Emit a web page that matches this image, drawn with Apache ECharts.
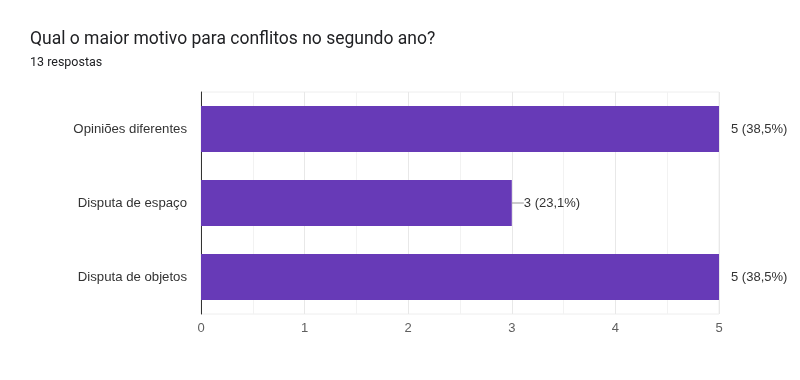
<!DOCTYPE html>
<html><head><meta charset="utf-8">
<script src="https://cdn.jsdelivr.net/npm/echarts@6/dist/echarts.min.js"></script>
<style>html,body{margin:0;padding:0;background:#fff}#c{width:800px;height:380px}</style>
</head><body><div id="c"></div>
<script>
const categories = ['Opiniões diferentes', 'Disputa de espaço', 'Disputa de objetos'];
const values = [5, 3, 5];
const percentLabels = ['38,5%', '23,1%', '38,5%'];
const titleText = 'Qual o maior motivo para conflitos no segundo ano?';
const subtitleText = '13 respostas';
const maxValue = 5;

const chart = echarts.init(document.getElementById('c'));
chart.setOption({
  animation: false,
  textStyle: { fontFamily: 'Roboto, Arial, sans-serif' },
  title: {
    text: titleText, subtext: subtitleText, left: 25, top: 26, itemGap: 7,
    textStyle: { fontFamily: 'Roboto', fontSize: 17.5, fontWeight: 'normal', color: '#202124' },
    subtextStyle: { fontFamily: 'Roboto', fontSize: 12.5, color: '#202124' }
  },
  grid: { left: 201, right: 81, top: 92, bottom: 66, show: true, borderColor: '#eeeeee', borderWidth: 1 },
  xAxis: {
    type: 'value', min: 0, max: maxValue, interval: 1,
    axisLine: { show: false }, axisTick: { show: false },
    axisLabel: { color: '#5f5f5f', fontSize: 13, margin: 8, fontFamily: 'Arial' },
    splitLine: { lineStyle: { color: '#e8e8e8' } },
    minorTick: { show: false, splitNumber: 2 },
    minorSplitLine: { show: true, lineStyle: { color: '#f2f2f2' } }
  },
  yAxis: {
    type: 'category', data: categories, inverse: true,
    axisLine: { lineStyle: { color: '#333', width: 1 } }, axisTick: { show: false },
    axisLabel: { color: '#333', fontSize: 13.2, margin: 14, fontFamily: 'Arial' }
  },
  series: [{
    type: 'bar', data: values, barCategoryGap: '38%',
    itemStyle: { color: '#673ab7' },
    label: {
      show: true, position: 'right', distance: 0,
      formatter: p => p.value === maxValue
        ? '{sp|}{t|' + p.value + ' (' + percentLabels[p.dataIndex] + ')}'
        : '{ln|}{t|' + p.value + ' (' + percentLabels[p.dataIndex] + ')}',
      rich: {
        sp: { width: 12, height: 1 },
        ln: { width: 12, height: 1, backgroundColor: '#999' },
        t: { fontSize: 13, color: '#333', fontFamily: 'Arial' }
      }
    }
  }]
});
</script></body></html>
